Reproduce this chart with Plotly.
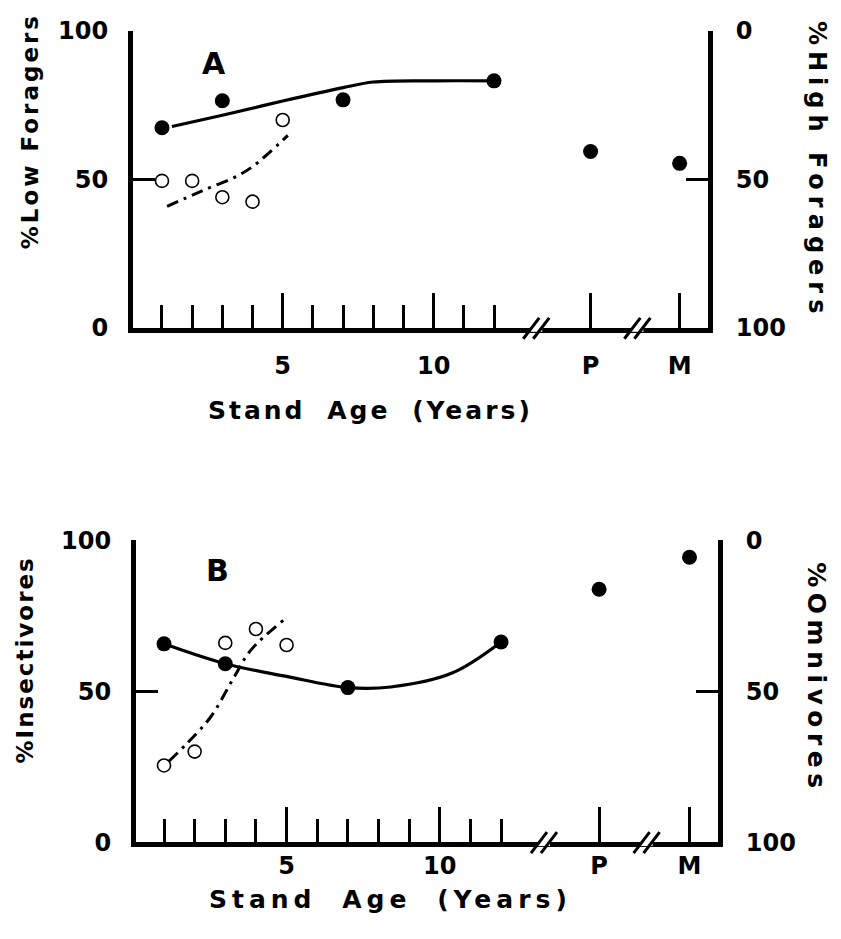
import plotly.graph_objects as go

# ---------------- data ----------------
# Panel A: % low foragers (left) / % high foragers (right, reversed)
ages_filled = [1, 3, 7, 12]
low_filled_A = [67.4, 76.5, 76.8, 83.2]
ages_open = [1, 2, 3, 4, 5]
low_open_A = [49.5, 49.5, 44, 42.5, 70]
mature_labels = ["P", "M"]
low_mature_A = [59.4, 55.4]
fitA_solid_x = [1.33, 3, 5, 7, 8, 10, 12]
fitA_solid_y = [67.8, 71.6, 76.4, 80.9, 82.8, 83.2, 83.2]
fitA_dash_x = [1.17, 2.29, 3.52, 4.05, 5.17]
fitA_dash_y = [40.9, 46.0, 51.3, 54.7, 64.8]

# Panel B: % insectivores (left) / % omnivores (right, reversed)
ins_filled_B = [65.7, 59.1, 51.2, 66.3]
ins_open_B = [25.4, 30.0, 66.0, 70.6, 65.3]
ins_mature_B = [83.8, 94.4]
fitB_solid_x = [1, 3, 5, 7, 8.4, 10.4, 12]
fitB_solid_y = [65.7, 59.1, 54.9, 51.2, 51.4, 56.0, 66.3]
fitB_dash_x = [1.16, 1.75, 2.54, 3.3, 3.84, 4.91]
fitB_dash_y = [26.8, 32.7, 41.7, 54.9, 63.7, 73.6]

x_tick_labels = ["5", "10", "P", "M"]
y_tick_vals = [0, 50, 100]

# ---------------- layout helpers ----------------
W, H = 841, 939
ML, MR, MT, MB = 120, 110, 20, 80
PW, PH = W - ML - MR, H - MT - MB
def PX(px):
    return (px - ML) / PW
def PY(py):
    return (H - MB - py) / PH

CAT_POS = {"P": 15.2, "M": 18.15}
BREAKS = [13.4, 16.75]
FONT = "DejaVu Sans"

# panel geometry in pixels: left, right, top, bottom, x-range, x tick label standoff
panels = {
    "A": dict(l=133, r=708, t=25, b=324, xr=[0.04, 19.09], xso=12),
    "B": dict(l=136, r=718, t=538, b=842, xr=[0.086, 19.08], xso=-2),
}

fig = go.Figure()
mk_f = dict(color="black", size=15)
mk_o = dict(color="white", size=13, line=dict(color="black", width=1.6))
solid = dict(color="black", width=3.2, shape="spline", smoothing=1.0)
dashd = dict(color="black", width=3, shape="spline", smoothing=1.0, dash="12px,6px,3px,6px")

pm_x = [CAT_POS[c] for c in mature_labels]

def add_panel(xa, ya, yr, sx, sy, dx, dy, filled, opened, mature):
    fig.add_trace(go.Scatter(x=sx, y=sy, mode="lines", line=solid, xaxis=xa, yaxis=ya, showlegend=False))
    fig.add_trace(go.Scatter(x=dx, y=dy, mode="lines", line=dashd, xaxis=xa, yaxis=ya, showlegend=False))
    fig.add_trace(go.Scatter(x=ages_open, y=opened, mode="markers", marker=mk_o, xaxis=xa, yaxis=ya, showlegend=False, cliponaxis=False))
    fig.add_trace(go.Scatter(x=ages_filled + pm_x, y=filled + mature, mode="markers", marker=mk_f, xaxis=xa, yaxis=ya, showlegend=False, cliponaxis=False))
    fig.add_trace(go.Scatter(x=[], y=[], xaxis=xa, yaxis=yr, showlegend=False))

add_panel("x", "y", "y3", fitA_solid_x, fitA_solid_y, fitA_dash_x, fitA_dash_y,
          low_filled_A, low_open_A, low_mature_A)
add_panel("x2", "y2", "y4", fitB_solid_x, fitB_solid_y, fitB_dash_x, fitB_dash_y,
          ins_filled_B, ins_open_B, ins_mature_B)

tickfont = dict(family=FONT, size=24, color="black", weight="bold")

def xaxis_cfg(p, anchor):
    return dict(range=p["xr"], domain=[PX(p["l"]), PX(p["r"])], anchor=anchor,
                showline=True, linewidth=5, linecolor="black",
                ticks="inside", ticklen=35, tickwidth=3, tickcolor="black",
                tickvals=[5, 10, CAT_POS["P"], CAT_POS["M"]], ticktext=x_tick_labels,
                tickfont=tickfont, ticklabelstandoff=p["xso"],
                minor=dict(tickmode="array", tickvals=list(range(1, 13)), ticks="inside",
                           ticklen=23, tickwidth=3, tickcolor="black", showgrid=False),
                showgrid=False, zeroline=False, fixedrange=True)

def yaxis_cfg(p, anchor, right=False, overlay=None):
    d = dict(range=[100, 0] if right else [0, 100], anchor=anchor,
             showline=True, linewidth=5, linecolor="black",
             ticks="inside", ticklen=22, tickwidth=3, tickcolor="black",
             tickvals=y_tick_vals, tickfont=tickfont, ticklabelstandoff=(18 if right else 15),
             showgrid=False, zeroline=False, fixedrange=True)
    if right:
        d.update(side="right", overlaying=overlay)
    else:
        d.update(domain=[PY(p["b"]), PY(p["t"])])
    return d

pA, pB = panels["A"], panels["B"]
fig.update_layout(
    width=W, height=H, margin=dict(l=ML, r=MR, t=MT, b=MB),
    paper_bgcolor="white", plot_bgcolor="white", showlegend=False,
    xaxis=xaxis_cfg(pA, "y"), yaxis=yaxis_cfg(pA, "x"),
    xaxis2=xaxis_cfg(pB, "y2"), yaxis2=yaxis_cfg(pB, "x2"),
    yaxis3=yaxis_cfg(pA, "x", right=True, overlay="y"),
    yaxis4=yaxis_cfg(pB, "x2", right=True, overlay="y2"),
)

# axis break marks "//"
shapes = []
for p in (pA, pB):
    scale = (p["r"] - p["l"]) / (p["xr"][1] - p["xr"][0])
    for bx in BREAKS:
        xc = p["l"] + (bx - p["xr"][0]) * scale
        yb = p["b"]
        shapes.append(dict(type="rect", xref="paper", yref="paper", layer="above",
                           x0=PX(xc - 6), x1=PX(xc + 6), y0=PY(yb + 4), y1=PY(yb - 4),
                           fillcolor="white", line=dict(width=0)))
        for off in (-5, 5):
            shapes.append(dict(type="line", xref="paper", yref="paper", layer="above",
                               x0=PX(xc + off - 8), y0=PY(yb + 11),
                               x1=PX(xc + off + 8), y1=PY(yb - 10),
                               line=dict(color="black", width=3)))
fig.update_layout(shapes=shapes)

def ann(text, cx, cy, size, angle=0, ls=0, ws=0):
    style = f"letter-spacing:{ls}px;word-spacing:{ws}px"
    fig.add_annotation(text=f'<span style="{style}">{text}</span>', x=PX(cx), y=PY(cy),
                       xref="paper", yref="paper", showarrow=False, textangle=angle,
                       xanchor="center", yanchor="middle",
                       font=dict(family=FONT, size=size, color="black", weight="bold"))

ann("%Low Foragers", 30, 126, 23, -90, 3)
ann("%High Foragers", 817, 165, 24, 90, 6)
ann("%Insectivores", 25, 659, 23, -90, 2)
ann("%Omnivores", 817, 676, 25, 90, 5.5)
ann("Stand Age (Years)", 370, 407, 25, 0, 3, 10)
ann("Stand Age (Years)", 390, 900, 25, 0, 5, 12)
ann("A", 214, 58, 30)
ann("B", 217, 568, 30)

fig.write_html("out.html", config={"displayModeBar": False, "staticPlot": True},
               post_script="document.body.style.margin='0';document.body.style.overflow='hidden';")
